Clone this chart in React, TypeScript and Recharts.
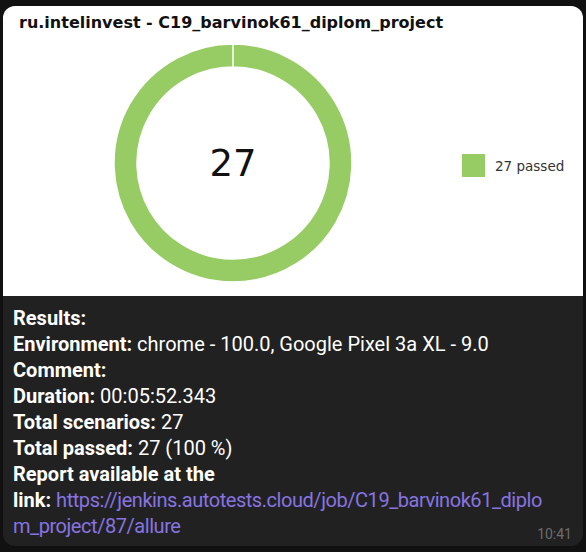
import { PieChart, Pie, Cell, Legend } from 'recharts';

const statuses = ['passed'];
const counts = [27];
const colors = ['#97cc64'];

const title = 'ru.intelinvest - C19_barvinok61_diplom_project';

const data = statuses.map((name, i) => ({ name, value: counts[i] }));
const total = counts.reduce((a, b) => a + b, 0);

const renderLegend = (props: any) => {
    const { payload } = props;
    return (
        <div>
            {payload.map((entry: any, i: number) => (
                <div key={i} style={{ display: 'flex', alignItems: 'center' }}>
                    <span style={{ width: 23, height: 23, background: entry.color, display: 'inline-block' }} />
                    <span style={{ marginLeft: 10, fontSize: 13.5, color: '#333', fontFamily: 'DejaVu Sans' }}>
                        {entry.payload.value} {entry.value}
                    </span>
                </div>
            ))}
        </div>
    );
};

// total in the middle of the ring, drawn once
const renderCenter = (props: any) => {
    if (props.index !== 0) return null;
    return (
        <text
            x={props.cx}
            y={props.cy}
            textAnchor="middle"
            dominantBaseline="central"
            fill="#111"
            style={{ fontSize: 37, fontFamily: 'DejaVu Sans' }}
        >
            {total}
        </text>
    );
};

const Bold = ({ children }: { children: any }) => <span style={{ fontWeight: 700 }}>{children}</span>;

const App = () => {
    const lineStyle = { height: 26, lineHeight: '26px', whiteSpace: 'nowrap' as const };
    const link = { color: '#8774e1', letterSpacing: '-0.45px' };
    return (
        <div style={{ width: 586, height: 552, background: '#111111', position: 'relative', overflow: 'hidden' }}>
            <style>{'body{margin:0}'}</style>
            <div
                style={{
                    position: 'absolute',
                    left: 3,
                    top: 6,
                    width: 580,
                    height: 540,
                    background: '#212121',
                    borderRadius: 12,
                    overflow: 'hidden',
                }}
            >
                <div style={{ position: 'relative', width: 580, height: 290, background: '#fff' }}>
                    <div
                        style={{
                            position: 'absolute',
                            left: 16,
                            top: 7,
                            fontFamily: 'DejaVu Sans',
                            fontWeight: 700,
                            fontSize: 16,
                            color: '#111',
                            zIndex: 1,
                        }}
                    >
                        {title}
                    </div>
                    <PieChart width={580} height={290} margin={{ top: 0, right: 0, bottom: 0, left: 0 }}>
                        <Pie
                            data={data}
                            dataKey="value"
                            nameKey="name"
                            cx={230}
                            cy={157}
                            innerRadius={96}
                            outerRadius={119}
                            startAngle={90}
                            endAngle={-270}
                            stroke="#fff"
                            strokeWidth={1.5}
                            label={renderCenter}
                            labelLine={false}
                            isAnimationActive={false}
                        >
                            {data.map((d, i) => (
                                <Cell key={d.name} fill={colors[i]} />
                            ))}
                        </Pie>
                        <Legend
                            content={renderLegend}
                            layout="vertical"
                            wrapperStyle={{ left: 459, top: 148, width: 120 }}
                        />
                    </PieChart>
                </div>
                <div
                    style={{
                        padding: '9px 0 0 10px',
                        fontFamily: 'Roboto',
                        fontSize: 20,
                        color: '#fff',
                    }}
                >
                    <div style={lineStyle}><Bold>Results:</Bold></div>
                    <div style={lineStyle}><Bold>Environment:</Bold> chrome - 100.0, Google Pixel 3a XL - 9.0</div>
                    <div style={lineStyle}><Bold>Comment:</Bold></div>
                    <div style={lineStyle}><Bold>Duration:</Bold> 00:05:52.343</div>
                    <div style={lineStyle}><Bold>Total scenarios:</Bold> 27</div>
                    <div style={lineStyle}><Bold>Total passed:</Bold> 27 (100 %)</div>
                    <div style={lineStyle}><Bold>Report available at the</Bold></div>
                    <div style={lineStyle}>
                        <Bold>link:</Bold> <span style={link}>https://jenkins.autotests.cloud/job/C19_barvinok61_diplo</span>
                    </div>
                    <div style={lineStyle}><span style={link}>m_project/87/allure</span></div>
                </div>
                <div
                    style={{
                        position: 'absolute',
                        right: 11,
                        bottom: 4,
                        fontFamily: 'Roboto',
                        fontSize: 14,
                        color: '#6d6d6d',
                    }}
                >
                    10:41
                </div>
            </div>
        </div>
    );
};

export default App;
